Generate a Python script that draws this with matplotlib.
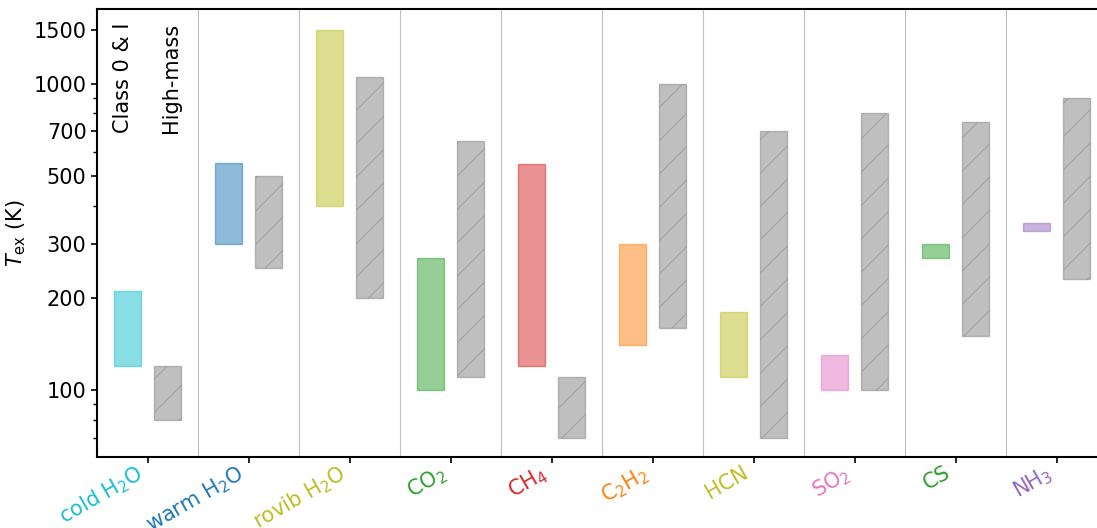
#!/usr/bin/env python3
"""Excitation temperature ranges: Class 0 & I vs high-mass sources."""
import matplotlib
matplotlib.use("Agg")
import matplotlib.pyplot as plt
import matplotlib.transforms as mtransforms
import numpy as np

species = ["cold H$_2$O", "warm H$_2$O", "rovib H$_2$O", "CO$_2$", "CH$_4$",
           "C$_2$H$_2$", "HCN", "SO$_2$", "CS", "NH$_3$"]
colors = ["tab:cyan", "tab:blue", "tab:olive", "tab:green", "tab:red",
          "tab:orange", "tab:olive", "tab:pink", "tab:green", "tab:purple"]

# Class 0 & I ranges (K)
low_lo = [120, 300, 400, 100, 120, 140, 110, 100, 270, 330]
low_hi = [210, 550, 1500, 270, 545, 300, 180, 130, 300, 350]
# High-mass ranges (K)
high_lo = [80, 250, 200, 110, 70, 160, 70, 100, 150, 230]
high_hi = [120, 500, 1050, 650, 110, 1000, 700, 800, 750, 900]

yticks = [100, 200, 300, 500, 700, 1000, 1500]

plt.rcParams["font.size"] = 15
plt.rcParams["hatch.linewidth"] = 0.7
plt.rcParams["axes.linewidth"] = 1.5

fig = plt.figure(figsize=(10.97, 5.28), dpi=100)
ax = fig.add_axes([97 / 1097, 71 / 528, 1010 / 1097, 448 / 528])

x = np.arange(len(species))
w = 0.27
off = 0.2

for i in x:
    ax.bar(i - off, low_hi[i] - low_lo[i], bottom=low_lo[i], width=w,
           color=colors[i], edgecolor=colors[i], alpha=0.5, linewidth=1)
    ax.bar(i + off, high_hi[i] - high_lo[i], bottom=high_lo[i], width=w,
           color="gray", edgecolor="gray", alpha=0.5, hatch="/", linewidth=1)

for xs in x[:-1] + 0.5:
    ax.axvline(xs, color="#c0c0c0", linewidth=0.8, zorder=0)

ax.set_yscale("log")
ax.set_ylim(60.5, 1750)
ax.set_xlim(-0.5, len(species) - 0.5)
ax.set_yticks(yticks)
ax.set_yticklabels([str(t) for t in yticks])
ax.set_ylabel(r"$T_{\rm ex}$ (K)")
ax.tick_params(which="major", length=4, width=1.2, pad=3.5)
ax.tick_params(which="minor", length=3, width=1)

ax.set_xticks(x)
ax.set_xticklabels(species, rotation=30, ha="right", rotation_mode="anchor")
shift = mtransforms.ScaledTranslation(-12 / 100, 5 / 100, fig.dpi_scale_trans)
for lab, c in zip(ax.get_xticklabels(), colors):
    lab.set_color(c)
    lab.set_transform(lab.get_transform() + shift)

ax.text(-0.24, 1580, "Class 0 & I", rotation=90, ha="center", va="top")
ax.text(0.23, 1580, "High-mass", rotation=90, ha="center", va="top")

fig.savefig("out.png", dpi=100)
